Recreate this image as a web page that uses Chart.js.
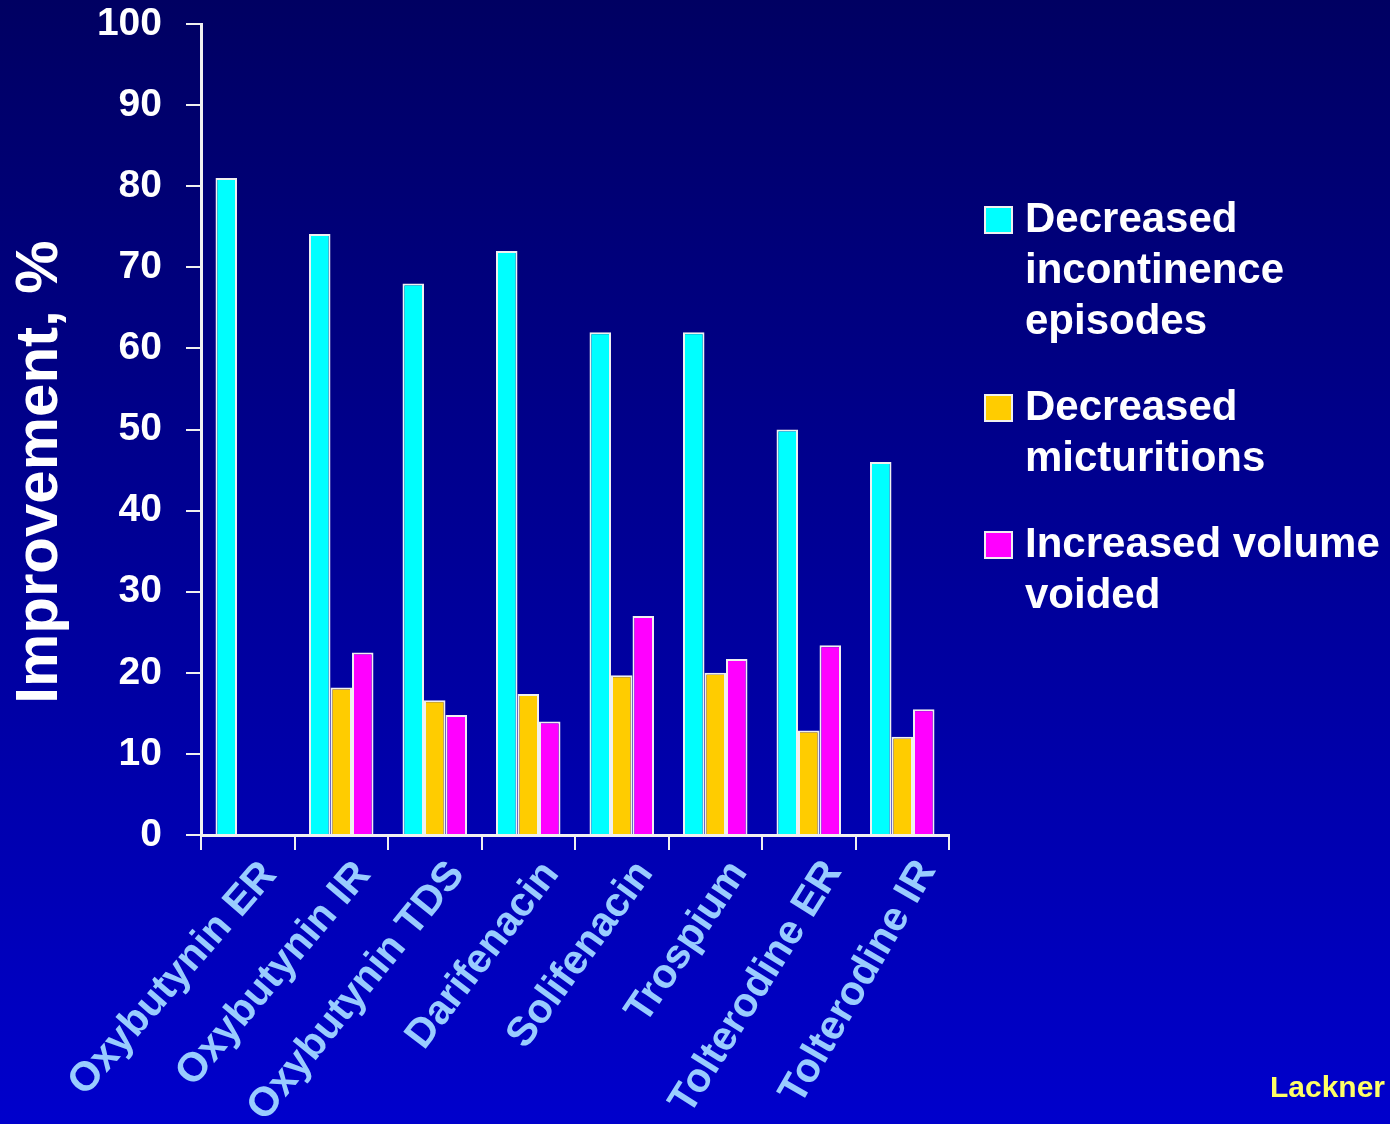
<!DOCTYPE html>
<html>
<head>
<meta charset="utf-8">
<script src="https://cdn.jsdelivr.net/npm/chart.js@4.4.0/dist/chart.umd.min.js"></script>
<style>
  html, body { margin: 0; padding: 0; background: #000066; }
  canvas { display: block; }
</style>
</head>
<body>
<canvas id="chart" width="1390" height="1124"></canvas>
<script>
// data
const drugs = ['Oxybutynin ER', 'Oxybutynin IR', 'Oxybutynin TDS', 'Darifenacin',
    'Solifenacin', 'Trospium', 'Tolterodine ER', 'Tolterodine IR'];
const incontinence = [81, 74.1, 68, 72, 62, 62, 50, 46];
const micturitions = [null, 18.2, 16.6, 17.4, 19.7, 20, 12.9, 12.1];
const volumeVoided = [null, 22.5, 14.8, 14, 27, 21.7, 23.4, 15.5];
const yTicks = [0, 10, 20, 30, 40, 50, 60, 70, 80, 90, 100];
const legendLines = [
    ['Decreased', 'incontinence', 'episodes'],
    ['Decreased', 'micturitions'],
    ['Increased volume', 'voided']
];
const colors = ['#00FFFF', '#FFCC00', '#FF00FF'];
// the slide's category labels fan out a little, left to right
const labelAngles = [49, 50, 51, 52.5, 54, 56, 58, 60];

const FONT = '"Liberation Sans", Arial, sans-serif';

const slideDecor = {
    id: 'slideDecor',
    beforeDraw(chart) {
        const ctx = chart.ctx;
        const g = ctx.createLinearGradient(0, 0, 0, chart.height);
        g.addColorStop(0, '#000062');
        g.addColorStop(1, '#0000CC');
        ctx.save();
        ctx.fillStyle = g;
        ctx.fillRect(0, 0, chart.width, chart.height);
        ctx.restore();

        // tilt each x label to its own angle
        const items = chart.scales.x.getLabelItems(chart.chartArea);
        items.forEach((it, i) => {
            if (labelAngles[i] !== undefined) it.options.rotation = -labelAngles[i] * Math.PI / 180;
        });
    },
    afterDraw(chart) {
        const ctx = chart.ctx;
        ctx.save();
        // y axis title
        ctx.translate(40, 472);
        ctx.rotate(-Math.PI / 2);
        ctx.fillStyle = '#FFFFFF';
        ctx.font = 'bold 60px ' + FONT;
        ctx.textAlign = 'center';
        ctx.textBaseline = 'middle';
        ctx.fillText('Improvement, %', 0, 0);
        ctx.restore();

        // legend
        ctx.save();
        ctx.font = 'bold 42px ' + FONT;
        ctx.textBaseline = 'middle';
        ctx.textAlign = 'left';
        let y = 220;
        legendLines.forEach((lines, i) => {
            ctx.fillStyle = colors[i];
            ctx.fillRect(985, y - 13, 27, 26);
            ctx.strokeStyle = '#F0F0F0';
            ctx.lineWidth = 2;
            ctx.strokeRect(985, y - 13, 27, 26);
            ctx.fillStyle = '#FFFFFF';
            lines.forEach((t, j) => ctx.fillText(t, 1025, y + j * 51));
            y += lines.length * 51 + 35;
        });

        // source
        ctx.fillStyle = '#FFFF66';
        ctx.font = 'bold 30px ' + FONT;
        ctx.textAlign = 'right';
        ctx.textBaseline = 'alphabetic';
        ctx.fillText('Lackner', 1385, 1097);
        ctx.restore();
    }
};

const series = [incontinence, micturitions, volumeVoided];
new Chart(document.getElementById('chart'), {
    type: 'bar',
    data: {
        labels: drugs,
        datasets: series.map((d, i) => ({
            label: legendLines[i].join(' '),
            data: d,
            backgroundColor: colors[i],
            borderColor: '#F0F0F0',
            borderWidth: 2,
            borderSkipped: 'bottom',
            categoryPercentage: 0.69,
            barPercentage: 1.0
        }))
    },
    options: {
        responsive: false,
        animation: false,
        layout: { padding: { left: 0, top: 24, right: 441, bottom: 0 } },
        plugins: {
            legend: { display: false },
            tooltip: { enabled: false }
        },
        scales: {
            x: {
                afterFit: s => { s.height = 289; s.paddingLeft = 0; s.paddingRight = 0; },
                grid: {
                    offset: true,
                    drawOnChartArea: false,
                    color: '#F0F0F0',
                    lineWidth: 2,
                    tickLength: 15
                },
                border: { color: '#F0F0F0', width: 3 },
                ticks: {
                    color: '#99CCFF',
                    font: { family: FONT, size: 41, weight: 'bold' },
                    autoSkip: false,
                    minRotation: 50,
                    maxRotation: 50,
                    labelOffset: 22,
                    padding: 2
                }
            },
            y: {
                min: 0,
                max: 100,
                afterFit: s => { s.width = 201; s.paddingTop = 0; s.paddingBottom = 0; },
                afterBuildTicks: s => { s.ticks = yTicks.map(v => ({ value: v })); },
                grid: {
                    drawOnChartArea: false,
                    color: '#F0F0F0',
                    lineWidth: 2,
                    tickLength: 15
                },
                border: { color: '#F0F0F0', width: 3 },
                ticks: {
                    color: '#FFFFFF',
                    font: { family: FONT, size: 39, weight: 'bold' },
                    padding: 24
                }
            }
        }
    },
    plugins: [slideDecor]
});
</script>
</body>
</html>
